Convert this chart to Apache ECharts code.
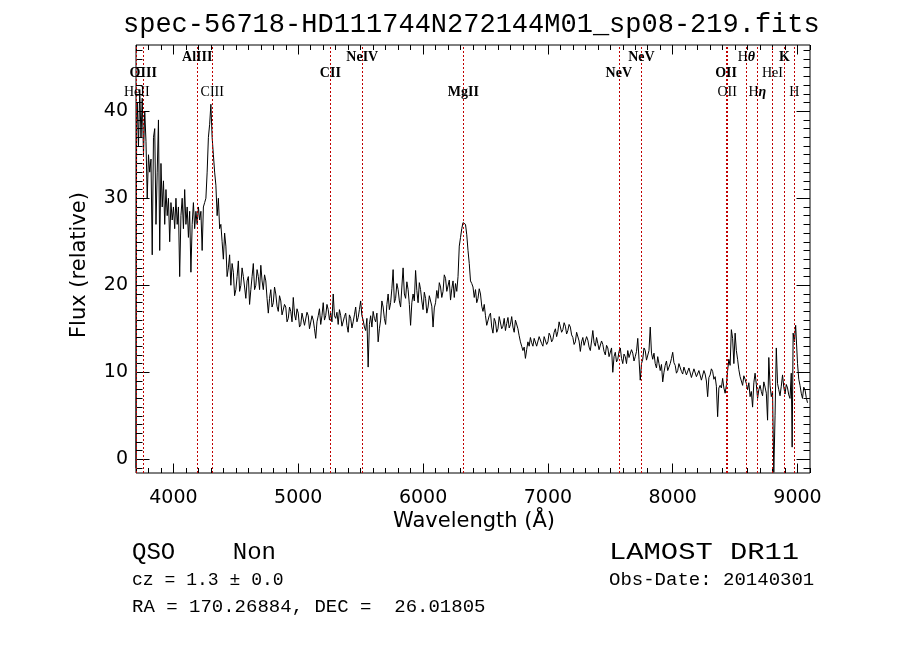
<!DOCTYPE html>
<html><head><meta charset="utf-8">
<script src="https://cdn.jsdelivr.net/npm/echarts@6/dist/echarts.min.js"></script>
<style>html,body{margin:0;padding:0;background:#fff}#main{width:900px;height:649px}</style>
</head><body><div id="main"></div>
<script>
// ---- data: spectrum as [wavelength (Å), relative flux] ----
const specBlue = [
[3700,-1.0],[3705,39],[3710,41],[3720,36],[3730,42.5],[3740,37],[3750,41.5],[3760,35],[3770,40],[3780,36.5],
[3790,30],[3800,35],[3810,33],[3820,34.5],[3830,23.5],[3840,37],[3850,38],[3860,27],[3870,33],[3880,39],
[3890,24],[3900,34],[3910,29],[3920,32],[3930,27],[3940,31],[3950,28],[3960,30],[3970,25],[3980,29.5],
[3990,27.5],[4000,29],[4010,26.5],[4020,30],[4030,27],[4040,29],[4050,21],[4060,28],[4070,30],[4080,26.5],
[4090,31],[4100,27],[4110,29],[4120,25.5],[4130,28.5],[4140,21.5],[4150,27],[4160,29.5],[4170,26.5],[4180,28.5],
[4190,27],[4200,29],[4210,27.5],[4220,28.5],[4230,24],[4240,29],[4250,29.5],[4260,30],[4270,33],[4280,37],
[4290,38.5],[4300,40.8],[4310,37],[4320,35],[4330,33],[4340,31.5],[4350,28],[4360,30],[4370,26.5],[4380,27],
[4390,25],[4400,23]
];
const specGreen = [
[4410,26],[4420,24.5],[4430,21],[4440,22],[4450,23.5],[4460,20],[4470,22.5],[4480,21.5],[4490,18.8],[4500,19.5],
[4510,21],[4520,22.8],[4530,19.3],[4540,20],[4550,22],[4560,21],[4570,19.8],[4580,18.5],[4590,20.5],[4600,21],
[4610,17.8],[4620,19.5],[4630,21],[4640,22.5],[4650,19.5],[4660,20],[4670,21.8],[4680,21],[4690,19.5],[4700,22.3],
[4710,20.5],[4720,19.5],[4730,21.2],[4740,20.5],[4750,18.5],[4760,16.8],[4770,18.5],[4780,19.5],[4790,17.5],[4800,18],
[4810,19.8],[4820,19],[4830,17.6],[4840,17],[4850,18.8],[4860,18.2],[4870,16.6],[4880,16.5],[4890,17.8],[4900,17.5],
[4910,15.8],[4920,16.2],[4930,17.5],[4940,17],[4950,15.8],[4960,18.6],[4970,16.7],[4980,16],[4990,17.3],[5000,16.8],
[5010,15.2],[5020,15.5],[5030,16.8],[5040,17],[5050,15.4],[5060,15.3],[5070,16.9],[5080,16.5],[5090,15],[5100,15.2],
[5110,16.5],[5120,16],[5130,15],[5140,13.9],[5150,15.8],[5160,16.5],[5170,17.3],[5180,15.5],[5190,16.5],[5200,18],
[5210,16],[5220,16.5],[5230,17.8],[5240,17.2],[5250,16],[5260,16.8],[5270,15.8],[5280,19],[5290,16.5],[5300,16.2],
[5310,16.9],[5320,15.5],[5330,17.2],[5340,16.5],[5350,15.3],[5360,15.2],[5370,16.4],[5380,16.8],[5390,15.4],[5400,14.6],
[5410,16.6],[5420,16.2],[5430,15.1],[5440,15.8],[5450,16.6],[5460,17.5],[5470,15.8],[5480,16.3],[5490,17.2],[5500,18.2],
[5510,16.5],[5520,16],[5530,15.2],[5540,14.8],[5550,16.2],[5560,10.6],[5570,15.5],[5580,16.5],[5590,15.2],[5600,17],
[5610,16.2],[5620,15.8],[5630,16.8],[5640,13.5],[5650,15],[5660,16],[5670,18.2],[5680,17.5],[5690,16.2],[5700,15.5],
[5710,17.8],[5720,19],[5730,17.2],[5740,18],[5750,19.6],[5760,21.8],[5770,18],[5780,18.5],[5790,20.2],[5800,19.5],
[5810,18.2],[5820,17.5],[5830,19.8],[5840,22],[5850,19],[5860,18.5],[5870,20.4],[5880,19.5],[5890,17.8],[5900,15.4],
[5910,18],[5920,19],[5930,18.2],[5940,21.7],[5950,19.4],[5960,18],[5970,20.3],[5980,19.5],[5990,18.2],[6000,17.2],
[6010,19.2],[6020,18.5],[6030,16.8],[6040,17.5],[6050,18.8],[6060,19],[6070,17.6],[6080,15.2],[6090,17.4],[6100,18],
[6110,19.4],[6120,18.5],[6130,20.3],[6140,19.8],[6150,18.6],[6160,19.3],[6170,21.2],[6180,20.8],[6190,19.3],[6200,19.5],
[6210,20.6],[6220,18.3],[6230,19.6],[6240,20.5],[6250,18.6],[6260,20.2],[6270,19.3],[6280,21],[6290,24.5],[6300,25.5],
[6310,26.5],[6320,27.2],[6330,27.4],[6340,27],[6350,25.8],[6360,24],[6370,22.5],[6380,20.5],[6390,20.2],[6400,19.8]
];
const specRed = [
[6410,18.6],[6420,19.5],[6430,18],[6440,18.5],[6450,19.6],[6460,19],[6470,17.6],[6480,17],[6490,17.8],[6500,16.5],
[6510,15.4],[6520,15.5],[6530,16.5],[6540,16.8],[6550,15.2],[6560,14.5],[6570,16.2],[6580,15.8],[6590,14.6],[6600,15],
[6610,16.4],[6620,16.2],[6630,15],[6640,15.3],[6650,16.2],[6660,14.8],[6670,15.6],[6680,16.3],[6690,15.1],[6700,15.5],
[6710,16.4],[6720,15.2],[6730,14.6],[6740,16],[6750,15.8],[6760,15],[6770,14.2],[6780,13.5],[6790,13],[6800,12.5],
[6810,12.9],[6820,11.6],[6830,12.6],[6840,13.5],[6850,13],[6860,14],[6870,13.4],[6880,13],[6890,13.9],[6900,13.8],
[6910,13],[6920,13.2],[6930,14.1],[6940,14],[6950,13.3],[6960,13],[6970,14.1],[6980,14.3],[6990,13.2],[7000,13.5],
[7010,14.5],[7020,14.2],[7030,13.5],[7040,13.8],[7050,14.6],[7060,15],[7070,14.1],[7080,14.7],[7090,15.8],[7100,15.6],
[7110,14.6],[7120,14.9],[7130,15.7],[7140,15.3],[7150,14.4],[7160,14.8],[7170,15.5],[7180,15.2],[7190,14.3],[7200,14],
[7210,13.2],[7220,13.5],[7230,14.6],[7240,14.5],[7250,13.6],[7260,12.4],[7270,13.5],[7280,14],[7290,13.1],[7300,13.2],
[7310,14.1],[7320,13.7],[7330,12.9],[7340,12.5],[7350,13.6],[7360,14.8],[7370,13.4],[7380,13],[7390,14],[7400,13.3],
[7410,12.6],[7420,12.5],[7430,13.6],[7440,13.2],[7450,12.4],[7460,12],[7470,13.1],[7480,12.8],[7490,11.8],[7500,11.7],
[7510,12.8],[7520,10],[7530,11.8],[7540,12.3],[7550,11.2],[7560,11.5],[7570,12.4],[7580,12.8],[7590,11.6],[7600,11],
[7610,12.1],[7620,11.8],[7630,11],[7640,12.5],[7650,11.7],[7660,11.5],[7670,12.6],[7680,12.2],[7690,11.3],[7700,11.8],
[7710,12.4],[7720,13.9],[7730,11.5],[7740,9.1],[7750,11],[7760,11.5],[7770,12.8],[7780,12.5],[7790,11.4],[7800,11.2],
[7810,12.5],[7820,15.2],[7830,12.2],[7840,11.5],[7850,12.2],[7860,11],[7870,10.5],[7880,11.8],[7890,11],[7900,10.2],
[7910,10.9],[7920,8.9],[7930,10],[7940,10.8],[7950,11.3],[7960,10.2],[7970,10.6],[7980,11],[7990,11.6],[8000,12.3],
[8010,11.1],[8020,10.8],[8030,9.9],[8040,10.2],[8050,11],[8060,10.8],[8070,10.1],[8080,9.8],[8090,10.6],[8100,10.4],
[8110,9.7],[8120,9.5],[8130,10.5],[8140,10.3],[8150,9.4],[8160,9.6],[8170,10.4],[8180,10.2],[8190,9.5],[8200,9.4],
[8210,10.2],[8220,10],[8230,9.1],[8240,9.3],[8250,10.2],[8260,9.8],[8270,9],[8280,7.2],[8290,9.4],[8300,9.7],
[8310,10.4],[8320,10.1],[8330,9.2],[8340,9.5],[8350,8.4],[8360,4.9],[8370,8.2],[8380,8.5],[8390,8.2],[8400,9.3]
];
const specIR = [
[8410,8.2],[8420,7.6],[8430,8.5],[8440,10.2],[8450,11.5],[8460,10.8],[8470,14.9],[8480,13.9],[8490,11],[8500,14.5],
[8510,12.5],[8520,11.5],[8530,10.3],[8540,9.5],[8550,9.0],[8560,8.5],[8570,9.6],[8580,9.2],[8590,8.7],[8600,8],
[8610,8.8],[8620,7.2],[8630,7.8],[8640,6],[8650,8.8],[8660,9.9],[8670,8.6],[8680,7],[8690,8.0],[8700,8.5],
[8710,7.8],[8720,7.3],[8730,8.9],[8740,8.3],[8750,7.6],[8760,4.5],[8770,11.7],[8780,8.5],[8790,7.2],[8800,7.8],
[8810,-1.5],[8820,5],[8830,12.8],[8840,8.7],[8850,8],[8860,7.3],[8870,8.4],[8880,9.7],[8890,8.3],[8900,7.5],
[8910,8.6],[8920,8.2],[8930,7.4],[8940,7],[8950,9.9],[8957,1.4],[8965,14.5],[8975,13.5],[8985,15.4],[9000,11],
[9010,9.2],[9020,8.5],[9030,7.6],[9040,7],[9050,8.3],[9060,8],[9070,7.1],[9080,6.5]
];

const xTickLabels = [4000, 5000, 6000, 7000, 8000, 9000];
const yTickLabels = [0, 10, 20, 30, 40];

const lineNames = ['HeII','OIII','AlIII','CIII','CII','NeIV','MgII','NeV','NeV','OII','OII','Hθ','Hη','HeI','K','H'];
const lineWaves = [3706, 3758, 4191, 4311, 5257, 5513, 6323, 7568, 7749, 8428, 8436, 8590, 8678, 8799, 8895, 8975];
const lineRows  = [2, 1, 0, 2, 1, 0, 2, 1, 0, 1, 2, 0, 2, 1, 0, 2];
const lineBold  = [false, true, true, false, true, true, true, true, true, true, false, false, false, false, true, false];

const titleText = 'spec-56718-HD111744N272144M01_sp08-219.fits';
const xName = 'Wavelength (Å)';
const yName = 'Flux (relative)';
const classText = 'QSO    Non';
const releaseText = 'LAMOST DR11';
const czText = 'cz = 1.3 ± 0.0';
const dateText = 'Obs-Date: 20140301';
const coordText = 'RA = 170.26884, DEC =  26.01805';

// ---- layout ----
const X_MIN = 3700, X_MAX = 9100, Y_MIN = -1.57, Y_MAX = 47.61;
const xMinor = []; for (let v = 3700; v <= 9100; v += 100) if (v % 1000) xMinor.push(v);
const yMinor = []; for (let v = -1; v <= 47; v++) if (v % 10) yMinor.push(v);

const SANS = "'DejaVu Sans', sans-serif";
const MONO = "'Liberation Mono', 'DejaVu Sans Mono', monospace";
const SERIF = "'Liberation Serif', 'DejaVu Serif', serif";

function xAx(pos, vals, len, showLabel) {
  return {
    type: 'value', gridIndex: 0, position: pos, min: X_MIN, max: X_MAX,
    axisLine: { show: false, onZero: false },
    splitLine: { show: false },
    axisTick: { show: true, inside: true, length: len, customValues: vals, lineStyle: { color: '#000', width: 1 } },
    axisLabel: showLabel ? { show: true, customValues: vals, formatter: v => String(v), color: '#000', fontFamily: SANS, fontSize: 19, margin: 16 } : { show: false }
  };
}
function yAx(pos, vals, len, showLabel) {
  return {
    type: 'value', gridIndex: 0, position: pos, min: Y_MIN, max: Y_MAX,
    axisLine: { show: false, onZero: false },
    splitLine: { show: false },
    axisTick: { show: true, inside: true, length: len, customValues: vals, lineStyle: { color: '#000', width: 1 } },
    axisLabel: showLabel ? { show: true, customValues: vals, formatter: v => String(v), color: '#000', fontFamily: SANS, fontSize: 19, margin: 8 } : { show: false }
  };
}

const option = {
  animation: false,
  backgroundColor: '#fff',
  grid: { left: 136, top: 45, width: 674, height: 428, show: true, borderColor: '#000', borderWidth: 1, backgroundColor: 'transparent' },
  xAxis: [
    xAx('bottom', xTickLabels, 9.5, true),
    xAx('bottom', xMinor, 5, false),
    xAx('top', xTickLabels, 9.5, false),
    xAx('top', xMinor, 5, false)
  ],
  yAxis: [
    yAx('left', yTickLabels, 13.5, true),
    yAx('left', yMinor, 6.5, false),
    yAx('right', yTickLabels, 13.5, false),
    yAx('right', yMinor, 6.5, false)
  ],
  series: [{
    type: 'line',
    xAxisIndex: 0, yAxisIndex: 0,
    data: specBlue.concat(specGreen, specRed, specIR),
    showSymbol: false, symbol: 'none',
    lineStyle: { color: '#000', width: 1 },
    clip: true,
    markLine: {
      silent: true, symbol: ['none', 'none'], animation: false,
      label: { show: false },
      lineStyle: { color: '#c00000', width: 1, type: [2, 2] },
      data: lineWaves.map(w => ({ xAxis: w }))
    }
  }]
};

const chart = echarts.init(document.getElementById('main'));
chart.setOption(option);

const rowY = [57, 73.5, 92];
const g = [];
lineNames.forEach((n, i) => {
  const px = chart.convertToPixel({ xAxisIndex: 0 }, lineWaves[i]);
  const greek = /[θη]/.test(n);
  const weight = lineBold[i] ? 'bold' : 'normal';
  const style = greek ? {
    text: '{a|' + n[0] + '}{b|' + n.slice(1) + '}',
    rich: {
      a: { fontFamily: SERIF, fontSize: 14, fontWeight: weight, fill: '#000' },
      b: { fontFamily: SERIF, fontSize: 14, fontWeight: 'bold', fontStyle: 'italic', fill: '#000' }
    },
    align: 'center', verticalAlign: 'middle'
  } : {
    text: n, fontFamily: SERIF, fontSize: 14, fontWeight: weight, fill: '#000',
    align: 'center', verticalAlign: 'middle'
  };
  g.push({ type: 'text', x: px, y: rowY[lineRows[i]], silent: true, z: 10, style: style });
});

g.push({ type: 'text', x: 123, y: 25, style: { text: titleText, fontFamily: MONO, fontSize: 27, fill: '#000', align: 'left', verticalAlign: 'middle' } });
g.push({ type: 'text', x: 474, y: 522, style: { text: xName, fontFamily: SANS, fontSize: 21, fill: '#000', align: 'center', verticalAlign: 'middle' } });
g.push({ type: 'text', x: 80, y: 265, rotation: Math.PI / 2, style: { text: yName, fontFamily: SANS, fontSize: 21, fill: '#000', align: 'center', verticalAlign: 'middle' } });
g.push({ type: 'text', x: 132, y: 553, style: { text: classText, fontFamily: MONO, fontSize: 24, fill: '#000', align: 'left', verticalAlign: 'middle' } });
g.push({ type: 'text', x: 609, y: 553, scaleX: 1.2, style: { text: releaseText, fontFamily: MONO, fontSize: 24, fill: '#000', align: 'left', verticalAlign: 'middle' } });
g.push({ type: 'text', x: 132, y: 580, scaleX: 0.95, style: { text: czText, fontFamily: MONO, fontSize: 19, fill: '#000', align: 'left', verticalAlign: 'middle' } });
g.push({ type: 'text', x: 609, y: 580, style: { text: dateText, fontFamily: MONO, fontSize: 19, fill: '#000', align: 'left', verticalAlign: 'middle' } });
g.push({ type: 'text', x: 132, y: 607, style: { text: coordText, fontFamily: MONO, fontSize: 19, fill: '#000', align: 'left', verticalAlign: 'middle' } });

chart.setOption({ graphic: g });
</script></body></html>
